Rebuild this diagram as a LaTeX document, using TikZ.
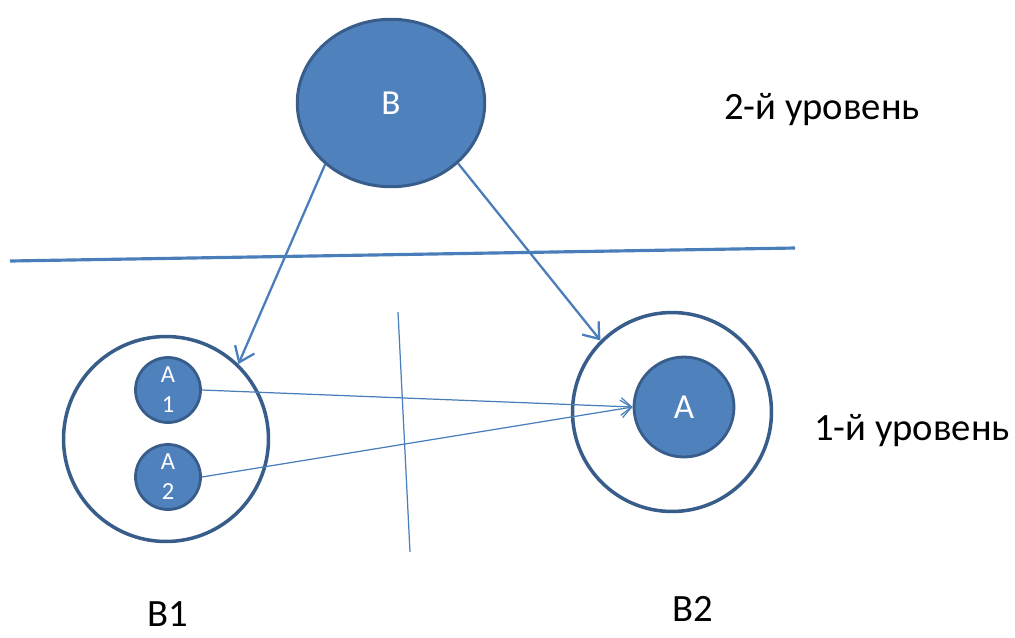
\documentclass[tikz,border=0pt]{standalone}
\usepackage{fontspec}
\setmainfont{Carlito}
\usetikzlibrary{shapes.geometric,arrows.meta}
\definecolor{nodeFillColor}{RGB}{79,129,189}
\definecolor{nodeBorderColor}{RGB}{56,93,138}
\definecolor{lineColor}{RGB}{74,126,187}

\begin{document}
\begin{tikzpicture}[
		x=0.02cm, y=-0.02cm,
		% Define styles for nodes
		topnode/.style={
				ellipse,
				draw=nodeBorderColor,
				fill=nodeFillColor,
				line width=1.7pt,
				minimum width=3.75cm,
				minimum height=3.35cm,
				inner sep=0pt,
				text=white,
				font=\fontsize{20}{22}\selectfont
			},
		levelcircle/.style={
				circle,
				draw=nodeBorderColor,
				line width=2pt,
				fill=white,
				minimum size=#1,
				inner sep=0pt
			},
		elemcircle/.style={
				circle,
				draw=nodeBorderColor,
				fill=nodeFillColor,
				line width=1.6pt,
				minimum size=#1,
				inner sep=0pt,
				text=white,
				align=center
			},
		arrow/.style={
				-{Straight Barb[length=8pt,width=12pt]},
				line width=1.3pt,
				draw=lineColor
			},
		thinarrow/.style={
				-{Straight Barb[length=6pt,width=10pt]},
				line width=0.7pt,
				draw=lineColor
			},
		divider/.style={
				line width=#1,
				draw=lineColor
			},
		levellabel/.style={
				font=\fontsize{22}{26}\selectfont,
				inner sep=1pt,
				text=black
			}
	]

	% Picture frame
	\useasboundingbox (0,0) rectangle (1015,637);

	% Upper level
	\node[topnode] (B) at (391,103) {B};
	\node[levellabel] (level2) at (822,110) {2-й уровень};

	% Level separator
	\coordinate (sepleft) at (10,261);
	\coordinate (sepright) at (795,248);
	\draw[divider=1.8pt] (sepleft) -- (sepright);

	% Lower level
	\node[levelcircle=4.1cm] (B1) at (166,439) {};
	\node[levelcircle=3.98cm] (B2) at (672,412) {};
	\node[elemcircle=1.3cm, font=\fontsize{14}{17}\selectfont] (A1) at (168,390) {A\\1};
	\node[elemcircle=1.3cm, font=\fontsize{14}{17}\selectfont] (A2) at (168,477) {A\\2};
	\node[elemcircle=2cm, font=\fontsize{20}{22}\selectfont] (A) at (684,407) {A};
	\node[levellabel] (level1) at (912,431) {1-й уровень};
	\node[levellabel] (B1label) at (168,614) {B1};
	\node[levellabel] (B2label) at (693,609) {B2};

	% Split between the two groups
	\coordinate (splittop) at (398,312);
	\coordinate (splitbottom) at (410,552);
	\draw[divider=0.7pt] (splittop) -- (splitbottom);

	% ARROWS
	\draw[arrow] (B.223) -- (B1.46);
	\draw[arrow] (B.318) -- (B2.135);
	\draw[thinarrow] (A1.east) -- (A.west);
	\draw[thinarrow] (A2.east) -- (A.west);

\end{tikzpicture}
\end{document}
